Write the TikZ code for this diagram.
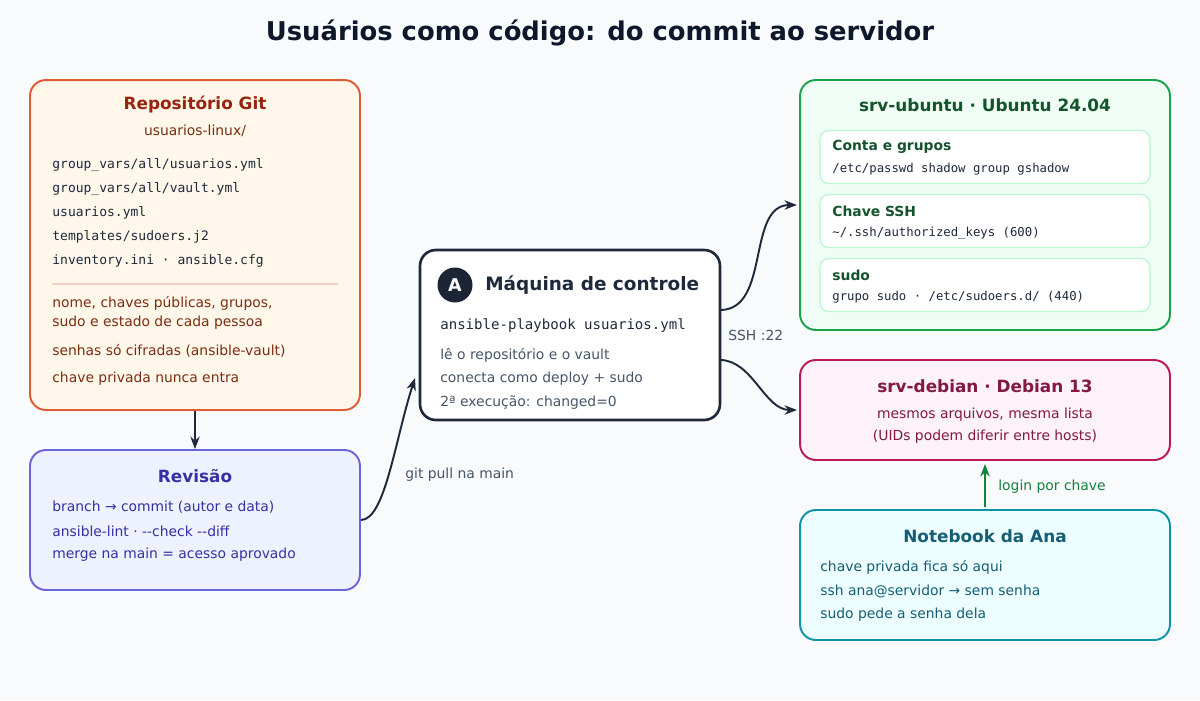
\documentclass[tikz,border=0pt]{standalone}
\usepackage{fontspec}
\setmainfont{DejaVu Sans}
\setmonofont{DejaVu Sans Mono}
\usetikzlibrary{arrows.meta, positioning}
\definecolor{BgGray}{HTML}{F8FAFC}
\definecolor{Ink}{HTML}{1E293B}
\definecolor{TitleInk}{HTML}{0F172A}
\definecolor{RepoLine}{HTML}{E05A33}
\definecolor{RepoFill}{HTML}{FFF7EA}
\definecolor{RepoText}{HTML}{7C2D12}
\definecolor{RevLine}{HTML}{6B63D9}
\definecolor{RevFill}{HTML}{EEF2FF}
\definecolor{RevText}{HTML}{3730A3}
\definecolor{UbLine}{HTML}{16A34A}
\definecolor{UbFill}{HTML}{F0FDF4}
\definecolor{UbText}{HTML}{14532D}
\definecolor{UbSoft}{HTML}{BBF7D0}
\definecolor{DebLine}{HTML}{BE185D}
\definecolor{DebFill}{HTML}{FDF2F8}
\definecolor{DebText}{HTML}{831843}
\definecolor{NbLine}{HTML}{0E94A8}
\definecolor{NbFill}{HTML}{ECFEFF}
\definecolor{NbText}{HTML}{155E75}
\definecolor{GrayText}{HTML}{475569}

\begin{document}
\begin{tikzpicture}[x=0.02cm, y=-0.02cm,
        box/.style={rectangle, rounded corners=9pt, line width=1.1pt, inner sep=0pt},
        inner/.style={rectangle, rounded corners=5pt, draw=UbSoft, fill=white, line width=0.8pt, minimum width=6.6cm, minimum height=1.06cm},
        head/.style={font=\fontsize{9.6}{11}\selectfont\bfseries},
        txt/.style={anchor=west, inner sep=0pt, font=\fontsize{7.9}{10}\selectfont},
        mono/.style={anchor=west, inner sep=0pt, font=\fontsize{7.4}{9}\selectfont\ttfamily},
        arrow/.style={-{Stealth[length=2.5mm]}, line width=1.1pt, Ink}
    ]
        \fill[BgGray] (0,0) rectangle (1200,700);
        \node[font=\fontsize{14.7}{17}\selectfont\bfseries, text=TitleInk] (title) at (600,33) {Usuários como código: do commit ao servidor};

        % Repositorio Git
        \node[box, draw=RepoLine, fill=RepoFill, minimum width=6.6cm, minimum height=6.6cm] (repo) at (195,245) {};
        \node[head, text=RepoText!80!red] (repoT) at (195,105) {Repositório Git};
        \node[txt, anchor=center, text=RepoText] (repoS) at (195,131) {usuarios-linux/};
        \foreach \f [count=\i] in {{group\_vars/all/usuarios.yml}, {group\_vars/all/vault.yml}, usuarios.yml, {templates/sudoers.j2}, inventory.ini · ansible.cfg}
            \node[mono, text=Ink] (file\i) at (52,141+24*\i) {\f};
        \draw[RepoLine!30, line width=1pt] (52,284) -- (338,284);
        \node[txt, text=RepoText, align=left] (repo1) at (52,313) {nome, chaves públicas, grupos,\\[1pt]sudo e estado de cada pessoa};
        \node[txt, text=RepoText] (repo2) at (52,351) {senhas só cifradas (ansible-vault)};
        \node[txt, text=RepoText] (repo3) at (52,379) {chave privada nunca entra};

        % Revisao
        \node[box, draw=RevLine, fill=RevFill, minimum width=6.6cm, minimum height=2.8cm] (rev) at (195,520) {};
        \node[head, text=RevText] (revT) at (195,476) {Revisão};
        \node[txt, text=RevText] (rev1) at (52,507) {branch → commit (autor e data)};
        \node[txt, text=RevText] (rev2) at (52,531) {ansible-lint · -{}-check -{}-diff};
        \node[txt, text=RevText] (rev3) at (52,555) {merge na main = acesso aprovado};

        % Maquina de controle
        \node[box, draw=Ink, fill=white, line width=1.5pt, minimum width=6cm, minimum height=3.4cm] (ctrl) at (570,335) {};
        \node[circle, fill=Ink!90!black, text=white, minimum size=0.7cm, inner sep=0pt, font=\fontsize{10}{12}\selectfont\bfseries] (badge) at (455,285) {A};
        \node[head, anchor=west, inner sep=0pt, text=Ink, font=\fontsize{10.5}{12}\selectfont\bfseries] (ctrlT) at (485,285) {Máquina de controle};
        \node[mono, text=Ink, font=\fontsize{8}{10}\selectfont\ttfamily] (ctrlC) at (440,326) {ansible-playbook usuarios.yml};
        \node[txt, text=GrayText] (ctrl1) at (440,355) {lê o repositório e o vault};
        \node[txt, text=GrayText] (ctrl2) at (440,379) {conecta como deploy + sudo};
        \node[txt, text=GrayText] (ctrl3) at (440,403) {2ª execução: changed=0};

        % srv-ubuntu
        \node[box, draw=UbLine, fill=UbFill, minimum width=7.4cm, minimum height=5cm] (ub) at (985,205) {};
        \node[head, text=UbText] (ubT) at (985,105) {srv-ubuntu · Ubuntu 24.04};
        \foreach \t/\m/\y [count=\i] in {{Conta e grupos}/{/etc/passwd shadow group gshadow}/157, {Chave SSH}/{\textasciitilde/.ssh/authorized\_keys (600)}/221, {sudo}/{grupo sudo · /etc/sudoers.d/ (440)}/285} {
            \node[inner] (ub\i) at (985,\y) {};
            \node[txt, text=UbText, font=\fontsize{7.9}{10}\selectfont\bfseries] (ub\i T) at (832,\y-10) {\t};
            \node[mono, text=Ink, font=\fontsize{7}{9}\selectfont\ttfamily] (ub\i M) at (832,\y+12) {\m};
        }

        % srv-debian
        \node[box, draw=DebLine, fill=DebFill, minimum width=7.4cm, minimum height=2cm] (deb) at (985,410) {};
        \node[head, text=DebText] (debT) at (985,386) {srv-debian · Debian 13};
        \node[txt, anchor=center, text=DebText] (deb1) at (985,415) {mesmos arquivos, mesma lista};
        \node[txt, anchor=center, text=DebText] (deb2) at (985,437) {(UIDs podem diferir entre hosts)};

        % Notebook
        \node[box, draw=NbLine, fill=NbFill, minimum width=7.4cm, minimum height=2.6cm] (nb) at (985,575) {};
        \node[head, text=NbText] (nbT) at (985,536) {Notebook da Ana};
        \node[txt, text=NbText] (nb1) at (820,567) {chave privada fica só aqui};
        \node[txt, text=NbText] (nb2) at (820,591) {ssh ana@servidor → sem senha};
        \node[txt, text=NbText] (nb3) at (820,615) {sudo pede a senha dela};

        % conexoes
        \coordinate (pullEnd) at (415,378);
        \coordinate (ubIn) at (797,205);
        \coordinate (debIn) at (797,410);
        \coordinate (ctrlUp) at (720,310);
        \coordinate (ctrlDn) at (720,360);
        \coordinate (nbUp) at (985,507);
        \coordinate (debDn) at (985,464);
        \draw[arrow] (repo.south) -- (rev.north);
        \draw[arrow] (rev.east) .. controls (385,520) and (395,440) .. (pullEnd);
        \node[txt, text=GrayText] (pullL) at (405,475) {git pull na main};
        \draw[arrow] (ctrlUp) to[out=0, in=180, looseness=1] (ubIn);
        \draw[arrow] (ctrlDn) to[out=0, in=180, looseness=0.9] (debIn);
        \node[txt, text=GrayText] (sshL) at (728,335) {SSH :22};
        \draw[arrow, UbLine!80!black] (nbUp) -- (debDn);
        \node[txt, text=UbLine!80!black] (loginL) at (998,487) {login por chave};
\end{tikzpicture}
\end{document}
